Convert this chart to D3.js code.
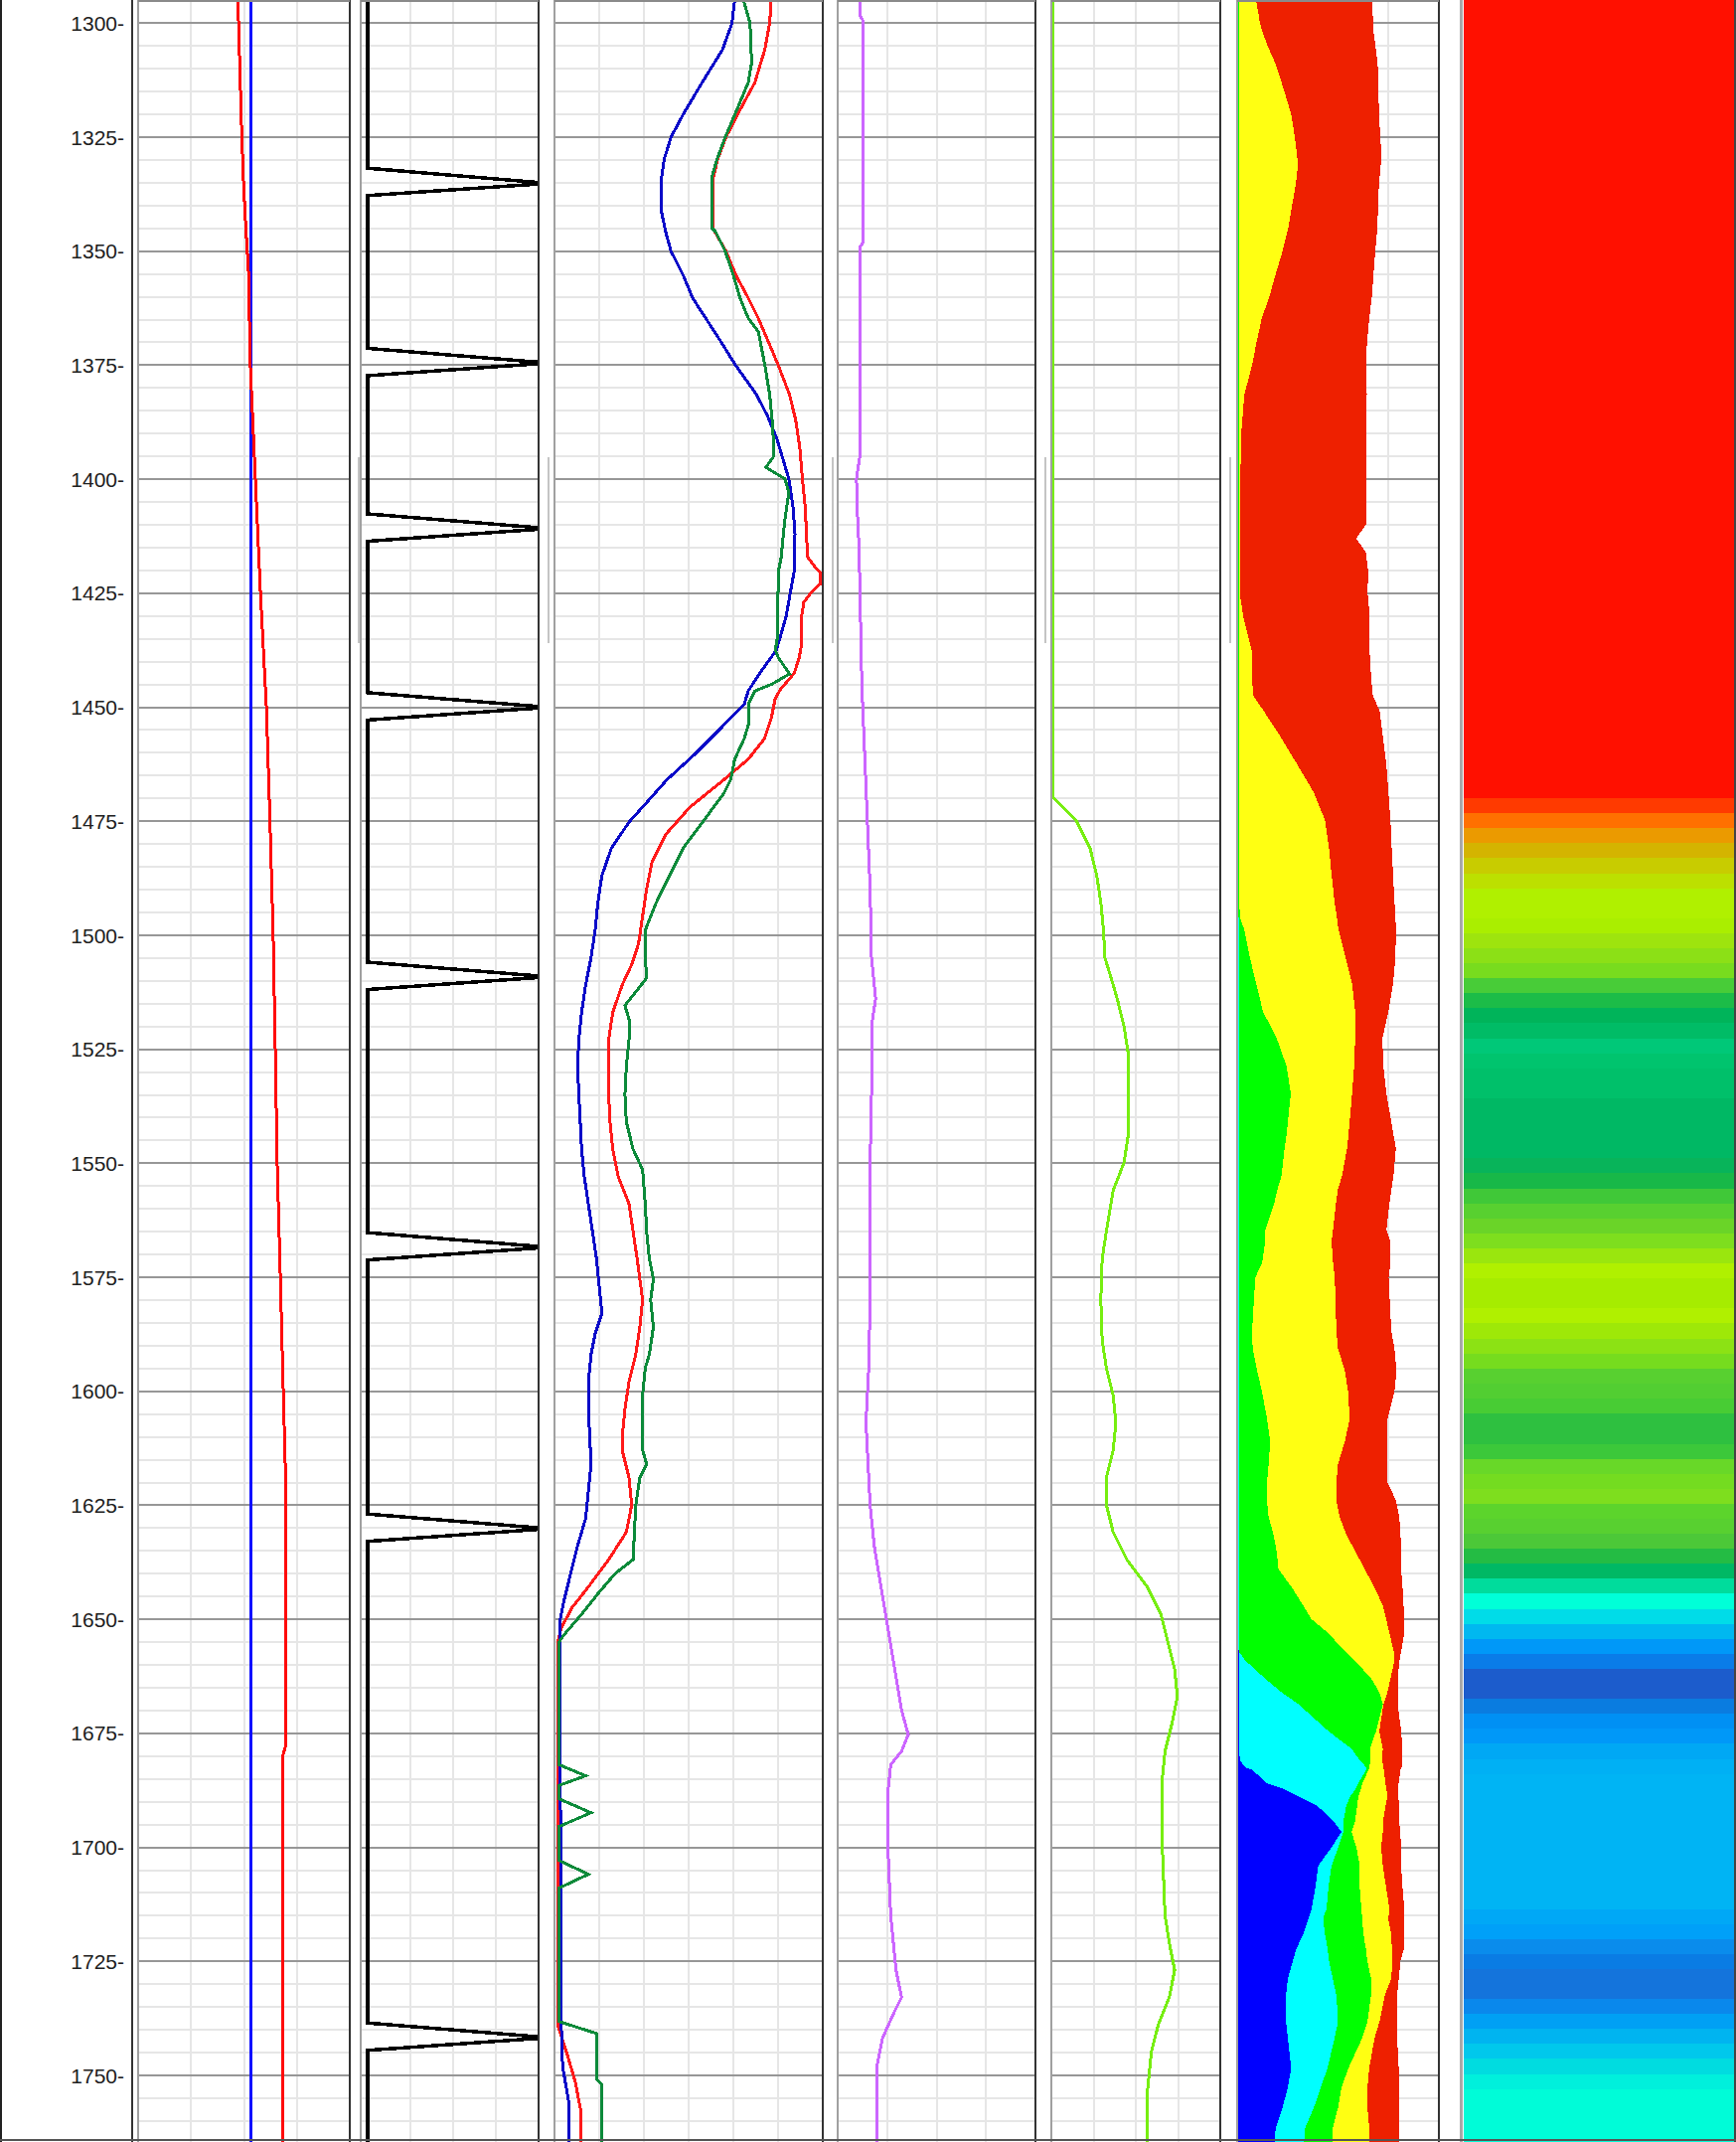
<!DOCTYPE html>
<html><head><meta charset="utf-8">
<script src="https://cdn.jsdelivr.net/npm/d3@7"></script>
<style>html,body{margin:0;padding:0;background:#fff}svg{display:block}</style>
</head><body>
<script>
// ---------------- DATA ----------------
const depthTicks = [1300,1325,1350,1375,1400,1425,1450,1475,1500,1525,1550,1575,1600,1625,1650,1675,1700,1725,1750];

// Track 1 (two curves)
const t1Blue = [[1290,53.5],[1770,53.5]];
const t1Red = [[1290,46.3],[1299,47.4],[1312,48.2],[1325,49],[1335,49.8],[1345,50.9],[1354,52.1],[1375,53.0],[1400,55.4],[1425,57.8],[1450,60.6],[1475,62.3],[1500,63.8],[1525,64.8],[1550,65.7],[1575,67.2],[1595,68.3],[1616,69.5],[1678,69.5],[1680,68.3],[1770,68.3]];

// Track 2 (spike curve)
const t2Curve = [[1290,3.9],[1331.8,3.9],[1334.9,98.9],[1335.3,98.9],[1337.8,3.9],
 [1371.3,3.9],[1374.3,98.9],[1374.7,98.9],[1377.3,3.9],
 [1407.6,3.9],[1410.6,98.9],[1411,98.9],[1413.6,3.9],
 [1446.8,3.9],[1449.8,98.9],[1450.2,98.9],[1452.8,3.9],
 [1505.9,3.9],[1508.9,98.9],[1509.3,98.9],[1511.9,3.9],
 [1565.2,3.9],[1568.2,98.9],[1568.6,98.9],[1571.2,3.9],
 [1626.9,3.9],[1629.9,98.9],[1630.3,98.9],[1632.9,3.9],
 [1738.5,3.9],[1741.5,98.9],[1741.9,98.9],[1744.5,3.9],[1770,3.9]];

// Track 3 (three curves)
const t3Blue = [[1290,135],[1294.9,133],[1300,131],[1305.8,124],[1313,109],[1320,95],[1325,86],[1329.8,81],[1334,79],[1341.4,79],[1345.7,82],[1350,86],[1355.3,95],[1360.3,102],[1364.7,111.6],[1369.7,122.5],[1374.9,133.4],[1381.4,149],[1386,157],[1391,164],[1396,169],[1400,173],[1406,176],[1412,177.5],[1420,177],[1426,173.4],[1430,171],[1433.8,167.4],[1437.5,163.7],[1441.9,153],[1446.4,143],[1449.4,140],[1453.9,125],[1459.9,105],[1465.9,83],[1471.9,65],[1475.2,55],[1480.9,42],[1486.9,35],[1492.9,32],[1498.9,30],[1504.9,27],[1510.9,23],[1516.9,20],[1522.9,18],[1528.9,17],[1534.9,18],[1540.9,19],[1546.9,20],[1552.9,22],[1558.9,25],[1564.9,28],[1570.9,31],[1576.9,33],[1582.9,35],[1587.4,30],[1591.9,27],[1597.9,25],[1603.9,25],[1609.9,26],[1615.9,27],[1621.9,25],[1627.9,23],[1633.9,17],[1639.9,12],[1645.9,7],[1650.4,4],[1654.9,4],[1700,4.5],[1738.9,5],[1748,6],[1752,8.3],[1755.6,10.4],[1770,10.4]];
const t3Red = [[1290,161],[1294.9,160],[1300,158.8],[1305.8,155.2],[1313,147.9],[1319,137],[1325,126.5],[1329.8,120.5],[1334,117],[1345,117],[1350,126.5],[1355.3,134],[1360.3,143],[1364.7,150.4],[1369.7,157.6],[1374.9,165],[1381.4,173.4],[1387,178],[1393,181],[1400,183],[1406,185],[1412,186],[1417,186.7],[1419,191.6],[1420.5,196],[1423,196],[1425,189],[1427,184],[1431,181.9],[1437,181.9],[1439,180.7],[1442.5,177],[1446,167],[1448,163],[1452.4,160],[1456.9,155],[1461.4,143],[1465.9,125],[1471.9,100],[1477.9,82],[1483.9,72],[1489.9,68],[1495.9,65],[1501.9,62],[1506.4,57],[1510.9,50],[1516.9,43],[1522.9,40],[1534.9,40],[1540.9,41],[1546.9,43],[1552.9,47],[1558.9,55],[1564.9,58],[1570.9,61],[1575.4,63],[1579.9,65],[1585.9,63],[1591.9,60],[1597.9,55],[1603.9,52],[1609.9,50],[1612.9,50],[1618.9,55],[1624.9,57],[1630.9,53],[1636.9,40],[1642.9,25],[1647.4,13],[1651.9,5],[1654.9,2.5],[1739,2.5],[1746,10],[1751.6,15.5],[1755.6,18],[1758,19.6],[1770,19.6]];
const t3Green = [[1290,138],[1294.9,139.4],[1300,144.3],[1308.7,145.5],[1313,143],[1319,134.6],[1325,126],[1329.8,120],[1333.5,116.4],[1345,116.4],[1345.7,118.8],[1350,126],[1355.3,132],[1360.3,137],[1364.7,143],[1367.6,150.4],[1374.9,155.2],[1381.4,158.8],[1388,161],[1394.9,162],[1397.4,156],[1399.9,170],[1402.9,173],[1408.9,170],[1414.9,168],[1417,167.4],[1420,165.4],[1426,164.9],[1434,164.9],[1437.5,163],[1439,165],[1442.7,173.4],[1445,160],[1446.4,148],[1449.4,143],[1453.9,143],[1456.9,140],[1461.4,133],[1465.9,130],[1468.9,125],[1474.9,110],[1480.9,95],[1486.9,85],[1492.9,75],[1498.9,67],[1504.9,67],[1509.4,68],[1512.4,60],[1515.4,52],[1518.4,55],[1522.9,55],[1528.9,53],[1534.9,52],[1540.9,53],[1546.9,58],[1551.4,65],[1558.9,67],[1564.9,68],[1570.9,70],[1575.4,73],[1579.9,71],[1585.9,73],[1591.9,70],[1594.9,67],[1600.9,65],[1612.9,65],[1615.9,68],[1618.9,63],[1624.9,60],[1630.9,59],[1636.9,58],[1639.9,45],[1644.4,32],[1648.9,20],[1653.4,7],[1654.9,3.5],[1681.9,3.5],[1684.3,23],[1686.4,3.5],[1689.4,3.5],[1692.4,27],[1695.4,3.5],[1702.9,3.5],[1705.9,25],[1708.9,3.5],[1738.2,3.5],[1740.8,31],[1750.9,31],[1752,35],[1770,35]];

// Track 4 (purple)
const t4Purple = [[1290,11.5],[1298.5,11.5],[1299.5,12.9],[1348,12.9],[1349,11.5],[1395,11.2],[1399.9,9.5],[1408.9,10.1],[1414.9,10.8],[1429.9,11.5],[1444.9,12.2],[1459.9,13.6],[1474.9,15],[1489.9,16.4],[1504.9,17.1],[1513.9,19.2],[1519.9,17.1],[1534.9,17.1],[1549.9,16.4],[1579.9,16.4],[1594.9,15.7],[1606.9,14.3],[1618.9,15.7],[1624.9,16.4],[1633.9,18.5],[1642.9,21.9],[1651.9,25.4],[1660.9,28.8],[1669.9,32.3],[1675.3,35.7],[1678.9,32.3],[1681.9,26.8],[1687.9,25.4],[1699.9,25.4],[1714.9,26.8],[1726.9,29.5],[1732.9,32.3],[1735.9,28.8],[1741.9,22.6],[1747.9,19.9],[1770,19.9]];

// Track 5 (light green)
const t5Green = [[1290,1.0],[1469.8,1.0],[1471.9,6.7],[1474.9,14.8],[1480.9,22.9],[1486.9,26.9],[1492.9,29.3],[1498.9,30.9],[1504.9,31.7],[1507.9,34.2],[1513.9,39],[1519.9,43],[1525.9,45.5],[1543.9,45.5],[1549.9,43],[1555.9,36.6],[1564.9,32.6],[1570.9,30.1],[1579.9,29.3],[1588.9,30.1],[1594.9,32.6],[1600.9,36.6],[1606.9,38.2],[1612.9,36.6],[1618.9,32.6],[1624.9,32.6],[1630.9,36.6],[1636.9,44.7],[1642.9,56.8],[1648.9,64.9],[1654.9,68.9],[1660.9,73],[1666.9,74.6],[1672.9,71.4],[1678.9,67.3],[1684.9,65.7],[1699.9,65.7],[1714.9,67.3],[1720.9,69.8],[1726.9,73],[1732.9,69.8],[1738.9,63.3],[1744.9,59.2],[1753.9,56.8],[1770,56.8]];

// Track 6 (cumulative lithology, %)
const t6Depth  = [1290,1294.9,1298,1300,1301.8,1304.7,1308.4,1310,1315,1320,1325,1328.7,1331,1335.3,1341,1345,1350,1355,1360,1364.7,1370,1375,1381.4,1390,1400,1410,1413,1416,1420,1425,1430,1438,1444,1447.5,1450.7,1456.6,1462.7,1468.7,1474.7,1480.7,1486.7,1492.7,1496.3,1498.7,1504.7,1510.7,1516.7,1522.7,1528.7,1534.7,1543.7,1546.7,1552.7,1555.7,1558.7,1564.6,1567.2,1572,1575,1586.7,1590.6,1595.5,1600,1606,1611,1616,1620,1624,1627.6,1631.5,1635.5,1639,1643,1647,1650,1653,1657,1659,1663,1666,1668.6,1674.5,1678.4,1681,1682.5,1683,1686,1687,1689,1691,1694.6,1696.6,1700,1704,1709,1713.5,1715.6,1719,1722.2,1724.8,1728.8,1732.4,1738.2,1741.8,1748.4,1752.7,1757.1,1761.5,1770];
const t6Blue   = [0,0,0,0,0,0,0,0,0,0,0,0,0,0,0,0,0,0,0,0,0,0,0,0,0,0,0,0,0,0,0,0,0,0,0,0,0,0,0,0,0,0,0,0,0,0,0,0,0,0,0,0,0,0,0,0,0,0,0,0,0,0,0,0,0,0,0,0,0,0,0,0,0,0,0,0,0.8,0.8,0.8,0.8,0.8,0.8,0.8,1.5,4,7.4,15,22,31,40,48.4,51.7,46.8,40.2,38.7,36.9,35.4,32.8,29.4,27.7,25.1,24.2,24.2,25.1,26.8,25.1,22.5,19.1,17.4];
const t6Cyan   = [0,0,0,0,0,0,0,0,0,0,0,0,0,0,0,0,0,0,0,0,0,0,0,0,0,0,0,0,0,0,0,0,0,0,0,0,0,0,0,0,0,0,0.8,0.8,0.8,0.8,0.8,0.8,0.8,0.8,0.8,0.8,0.8,0.8,0.8,0.8,0.8,0.8,0.8,0.8,0.8,0.8,0.8,0.8,0.8,0.8,0.8,0.8,0.8,0.8,0.8,0.8,0.8,0.8,0.8,0.8,0.8,4,13.9,22,30.4,45.2,56.7,61,64.1,64,60,59,55.8,54,52.6,52.6,50.1,46.8,45.2,44.3,42.6,43.5,44.8,45.5,47.4,49.2,50,48.3,44.8,41.4,38,33.7,32.3];
const t6Green  = [1,1,1,1,1,1,1,1,1,1,1,1,1,1,1,1,1,1,1,1,1,1,1,1,1,1,1,1,1,1,1,1,1,1,1,1,1,1,1,1,1,1,1.5,3.5,6.2,9.5,12.8,19.7,24.5,26.6,24.5,23.5,22,20,18.4,14,13.9,12.3,9,7.4,7.7,9.9,12.3,14.8,16.4,15.6,14.8,14.8,15.6,18.1,19.7,20.5,27.1,32.8,36.9,45.1,53.4,58.3,66.5,70.5,72.2,68.9,65.8,66,65.5,65.2,62,61.5,60,59.5,58.3,56.7,59.1,60.8,60.8,61.6,62,62.6,63.8,64.5,66.4,66.4,64.6,62,55.2,51.7,50,47.4,46.6];
const t6Yellow = [8.5,9.3,10.6,11.3,12.5,14.8,18.5,19.9,23.4,26.8,28.6,29.6,30.2,29.1,26.8,25.3,22.5,19.1,16,12.2,9.6,7.4,3.6,2,1.6,1.5,1.5,1.4,1.3,1.3,3,7.4,7.4,8,13,21.7,30,38,43.5,45.5,46.8,48.3,49.5,50.2,53.7,57,58.5,58.5,58,57,55.2,54.5,52,50,49,47.5,46.8,47.6,48.4,49.2,50,53.4,55,55.8,53.4,50,49.2,49.2,50.9,54.2,59.1,63.2,68.1,72.2,73.9,75.5,77.6,78,76,74.5,72.5,70.5,72.2,72,72.5,72.8,73.5,74,74.5,73.5,72.2,72.2,71.4,72.2,73.9,75.5,74.9,76.4,76.7,77,76.4,73.2,70.6,68.1,65.5,64.6,64.6,65.5,65.5];
const t6Red    = [67.2,67.2,67.2,67.4,67.6,68.5,69.5,69.8,70.1,70.3,71,71.5,71.2,70.3,69.8,69.5,68.5,67.6,66.8,65.5,64.4,63.8,64.3,63.8,63.8,63.8,59,63.8,64.9,64.7,65.7,65.7,66.5,67.3,70.6,72.3,74,75,76,76.6,77.3,78,78.5,78.7,78.5,77.3,75,72,72.5,74,77.5,78.7,77.5,76.5,75.5,74,76,76,75.1,76.4,78,79,78,74.6,74.3,74.3,74.6,78.8,80.4,81,81.3,81.3,82,82.5,82.9,82.9,81.3,80.5,79.6,79.6,79.6,81.3,82,82,81.5,81,80,80,80,80.2,80.4,80.8,81.3,81.3,82,82.9,82.7,82.9,82.7,81,80.1,79.3,79.3,79.3,80.1,80.1,80.1,80.1,80.1];

// Track 7 (colour image) run tops and colours
const t7Top = [1290,1470.0,1473.3,1476.5,1479.8,1483.1,1486.4,1489.7,1496.2,1499.5,1502.8,1506.1,1509.4,1512.7,1516.0,1519.3,1522.6,1525.9,1529.2,1535.8,1548.9,1552.2,1555.5,1558.8,1562.1,1565.4,1568.7,1571.9,1575.2,1581.8,1585.1,1588.4,1591.7,1595.0,1598.3,1601.6,1604.9,1611.5,1614.8,1618.1,1621.4,1624.6,1627.9,1631.2,1634.5,1637.8,1641.1,1644.4,1647.7,1651.0,1654.3,1657.6,1660.8,1667.4,1670.7,1674.0,1677.3,1680.6,1683.9,1713.5,1716.8,1720.1,1723.4,1726.7,1733.3,1736.5,1739.8,1743.1,1746.4,1749.7,1753.0];
const t7Color = ['#ff1000','#ff3a00','#ff7000','#eb9a00','#d4b400','#c8cc00','#bce000','#b0f000','#aaee00','#9ee40e','#8ce016','#78dc1e','#48cc38','#1cbc48','#00b45a','#00bc66','#00c878','#00c46e','#00c06a','#00b864','#08b45a','#18b848','#40c838','#58d030','#6ad428','#7ede1e','#9ae60e','#b0f000','#a6ec00','#b0f000','#9ee808','#8ce214','#76dc1e','#58d030','#52ce32','#48cc34','#2ec040','#3cc83a','#68d828','#74dc20','#7ede1e','#5cd42c','#58d030','#4cc838','#24bc44','#00b864','#00dc9c','#00ffd8','#00dce8','#00b8f0','#0098f8','#0a7ce8','#1c5ccc','#0a7ce0','#0090f4','#0098f8','#00a8f4','#00b0f4','#00b4f4','#00a8f6','#00a0f8','#0a8cec','#0a7ce4','#1474dc','#0a88ec','#00a0f4','#00b4f0','#00c8ec','#00dce0','#00f0dc','#00fcd8'];

// ---------------- CHART ----------------
const W = 1747, H = 2155;
const svg = d3.select('body').append('svg').attr('width', W).attr('height', H);
svg.append('rect').attr('width', W).attr('height', H).attr('fill', '#fff');

const y = d3.scaleLinear().domain([1300, 1750]).range([23.3, 2088]);
const dTop = y.invert(0), dBot = y.invert(H);
const gridDepths = d3.range(Math.ceil(dTop / 5) * 5, dBot, 5);

const tracks = [
  {id:'t1', x:d3.scaleLinear().domain([0,100]).range([139,352]), gl:139, hl:139, divs:4},
  {id:'t2', x:d3.scaleLinear().domain([0,100]).range([363,542]), gl:370, hl:363, divs:4},
  {id:'t3', x:d3.scaleLinear().domain([0,198]).range([558,828]), gl:558, hl:558, divs:6},
  {id:'t4', x:d3.scaleLinear().domain([0,100]).range([843,1042]), gl:843, hl:843, divs:4},
  {id:'t5', x:d3.scaleLinear().domain([0,100]).range([1058,1228]), gl:1058, hl:1058, divs:4},
  {id:'t6', x:d3.scaleLinear().domain([0,100]).range([1245,1448]), gl:1245, hl:1245, divs:4}
];
const T = Object.fromEntries(tracks.map(t => [t.id, t]));

const defs = svg.append('defs');
tracks.forEach(t => {
  const [a, b] = t.x.range();
  defs.append('clipPath').attr('id', 'clip-' + t.id)
    .append('rect').attr('x', Math.min(a, t.hl)).attr('y', 0).attr('width', b - Math.min(a, t.hl)).attr('height', H);
});

// grids
const gGrid = svg.append('g').attr('shape-rendering', 'crispEdges');
tracks.forEach(t => {
  const r = t.x.range()[1];
  const g = gGrid.append('g');
  g.selectAll('line.h').data(gridDepths).join('line')
    .attr('x1', t.hl).attr('x2', r)
    .attr('y1', d => Math.round(y(d))).attr('y2', d => Math.round(y(d)))
    .attr('stroke', d => d % 25 === 0 ? '#979797' : '#e6e6e6')
    .attr('stroke-width', 2);
  const vx = d3.range(1, t.divs).map(i => t.gl + i * (r - t.gl) / t.divs);
  g.selectAll('line.v').data(vx).join('line')
    .attr('x1', d => Math.round(d)).attr('x2', d => Math.round(d))
    .attr('y1', 0).attr('y2', H)
    .attr('stroke', '#e6e6e6').attr('stroke-width', 2);
});
tracks.forEach(t => {
  const r = t.x.range()[1];
  gGrid.append('g').selectAll('line').data(gridDepths.filter(d => d % 25 === 0)).join('line')
    .attr('x1', t.hl).attr('x2', r)
    .attr('y1', d => Math.round(y(d))).attr('y2', d => Math.round(y(d)))
    .attr('stroke', '#979797').attr('stroke-width', 2);
});

// Track 6 cumulative fills
(function(){
  const t = T.t6, x = t.x;
  const idx = d3.range(t6Depth.length);
  const layers = [
    {lo: null, hi: t6Blue, c: '#0000ff'},
    {lo: t6Blue, hi: t6Cyan, c: '#00ffff'},
    {lo: t6Cyan, hi: t6Green, c: '#00ff00'},
    {lo: t6Green, hi: t6Yellow, c: '#ffff12'},
    {lo: t6Yellow, hi: t6Red, c: '#ee2000'}
  ];
  const g = svg.append('g').attr('clip-path', 'url(#clip-t6)').attr('shape-rendering', 'crispEdges');
  layers.forEach(L => {
    const area = d3.area()
      .y(i => y(t6Depth[i]))
      .x0(i => x(L.lo ? L.lo[i] : 0))
      .x1(i => x(Math.max(L.hi[i], L.lo ? L.lo[i] : 0)));
    g.append('path').attr('d', area(idx)).attr('fill', L.c);
  });
})();

// Track 7 image
(function(){
  const g = svg.append('g').attr('shape-rendering', 'crispEdges');
  g.selectAll('rect').data(t7Top).join('rect')
    .attr('x', 1473).attr('width', 1746 - 1473)
    .attr('y', (d, i) => y(d))
    .attr('height', (d, i) => y(i < t7Top.length - 1 ? t7Top[i + 1] : dBot + 5) - y(d) + 0.5)
    .attr('fill', (d, i) => t7Color[i]);
})();

// curves
function curve(trackId, data, color, width) {
  const t = T[trackId];
  const line = d3.line().x(d => t.x(d[1])).y(d => y(d[0]));
  svg.append('path').attr('clip-path', 'url(#clip-' + trackId + ')')
    .attr('d', line(data)).attr('fill', 'none')
    .attr('stroke', color).attr('stroke-width', width)
    .attr('stroke-linejoin', 'miter').attr('stroke-linecap', 'butt')
    .attr('shape-rendering', 'crispEdges');
}
curve('t1', t1Blue, '#1010ff', 3);
curve('t1', t1Red, '#ff0a0a', 3);
curve('t2', t2Curve, '#000000', 3.5);
curve('t3', t3Red, '#ff1a1a', 3);
curve('t3', t3Blue, '#0a0ac8', 3);
curve('t3', t3Green, '#0c8a3a', 3);
curve('t4', t4Purple, '#cc66ff', 3);
curve('t5', t5Green, '#77ee11', 3);

// borders
const gB = svg.append('g').attr('shape-rendering', 'crispEdges');
gB.append('line').attr('x1', 1).attr('x2', 1).attr('y1', 0).attr('y2', H).attr('stroke', '#222').attr('stroke-width', 2);
gB.append('line').attr('x1', 133).attr('x2', 133).attr('y1', 0).attr('y2', H).attr('stroke', '#333').attr('stroke-width', 2);
tracks.forEach(t => {
  const [a, b] = t.x.range();
  gB.append('line').attr('x1', t.hl).attr('x2', t.hl).attr('y1', 0).attr('y2', H).attr('stroke', '#a0a0a0').attr('stroke-width', 2);
  gB.append('line').attr('x1', b).attr('x2', b).attr('y1', 0).attr('y2', H).attr('stroke', '#333').attr('stroke-width', 2);
  gB.append('line').attr('x1', t.hl).attr('x2', b).attr('y1', 1).attr('y2', 1).attr('stroke', '#8a8a8a').attr('stroke-width', 2);
});
gB.append('line').attr('x1', 1470).attr('x2', 1470).attr('y1', 0).attr('y2', H).attr('stroke', '#a8a8a8').attr('stroke-width', 3);
gB.append('line').attr('x1', 1746).attr('x2', 1746).attr('y1', 0).attr('y2', H).attr('stroke', '#444').attr('stroke-width', 2);
[361, 552, 838, 1052, 1238].forEach(xx => {
  gB.append('line').attr('x1', xx).attr('x2', xx).attr('y1', 460).attr('y2', 647).attr('stroke', '#c4c4c4').attr('stroke-width', 2);
});
gB.append('line').attr('x1', 0).attr('x2', W).attr('y1', 2153).attr('y2', 2153).attr('stroke', '#555').attr('stroke-width', 2);

// depth labels
svg.append('g').selectAll('text').data(depthTicks).join('text')
  .attr('x', 125).attr('y', d => y(d) + 7.6)
  .attr('text-anchor', 'end')
  .attr('font-family', '"Liberation Sans", Arial, sans-serif')
  .attr('font-size', 21).attr('fill', '#202020')
  .text(d => d + '-');
</script>
</body></html>
